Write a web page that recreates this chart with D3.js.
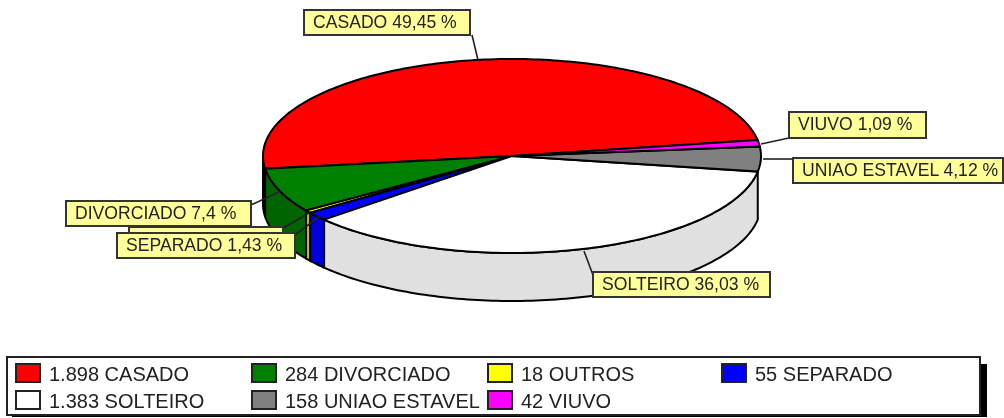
<!DOCTYPE html>
<html>
<head>
<meta charset="utf-8">
<script src="https://cdn.jsdelivr.net/npm/d3@7"></script>
<style>
html, body { margin: 0; padding: 0; background: #fff; }
svg { filter: blur(0.45px); }
text { font-family: "Liberation Sans", Arial, sans-serif; fill: #222; }
.callout { font-size: 17.6px; }
.legend-label { font-size: 20px; }
</style>
</head>
<body>
<div id="chart"></div>
<script>
// slices, counter clockwise from the right side of the pie
var categories = ["CASADO", "DIVORCIADO", "OUTROS", "SEPARADO", "SOLTEIRO", "UNIAO ESTAVEL", "VIUVO"];
var counts = [1898, 284, 18, 55, 1383, 158, 42];
var countLabels = ["1.898", "284", "18", "55", "1.383", "158", "42"];
var percentLabels = ["49,45 %", "7,4 %", "0,47 %", "1,43 %", "36,03 %", "4,12 %", "1,09 %"];
var colors = ["#ff0000", "#008000", "#ffff00", "#0000ff", "#ffffff", "#808080", "#ff00ff"];
// uniao estavel has no wall in the original, the solteiro wall closes the side
var wallColors = ["#d80000", "#006400", "#c8b820", "#0000d8", "#e0e0e0", null, "#d000d0"];

var width = 1004, height = 418;
var cx = 512, cy = 156, rx = 249, ry = 97, depth = 48;
var startAngle = 9.5 * Math.PI / 180;

var svg = d3.select("#chart").append("svg")
    .attr("width", width)
    .attr("height", height)
    .style("display", "block");

var slices = d3.pie().sort(null).startAngle(startAngle).endAngle(startAngle + 2 * Math.PI)(counts);

function px(a) { return cx + rx * Math.cos(a); }
function py(a) { return cy - ry * Math.sin(a); }

function arcPoints(a0, a1, dy) {
    var n = Math.max(2, Math.ceil(Math.abs(a1 - a0) / 0.02));
    return d3.range(n + 1).map(function (i) {
        var a = a0 + (a1 - a0) * i / n;
        return [px(a), py(a) + dy];
    });
}

var line = d3.line();

// side wall, only the front half of the ellipse shows
var walls = svg.append("g");
slices.forEach(function (d) {
    if (!wallColors[d.index]) return;
    for (var k = 0; k < 2; k++) {
        var a0 = Math.max(d.startAngle, Math.PI + k * 2 * Math.PI);
        var a1 = Math.min(d.endAngle, 2 * Math.PI + k * 2 * Math.PI);
        if (a1 <= a0) continue;
        var pts = arcPoints(a0, a1, 0).concat(arcPoints(a1, a0, depth));
        walls.append("path")
            .attr("d", line(pts) + "Z")
            .attr("fill", wallColors[d.index])
            .attr("stroke", "#000")
            .attr("stroke-width", 2);
    }
});

// top face
var topFace = svg.append("g");
slices.forEach(function (d) {
    var pts = [[cx, cy]].concat(arcPoints(d.startAngle, d.endAngle, 0));
    topFace.append("path")
        .attr("d", line(pts) + "Z")
        .attr("fill", colors[d.index])
        .attr("stroke", "#000")
        .attr("stroke-width", 2);
});

// callouts, drawn in the same order as the slices
var boxes = [
    {i: 0, x: 304, y: 10, w: 166, h: 25, line: [[472, 35], [478, 60]], text: 1},
    {i: 1, x: 66, y: 201, w: 185, h: 25, line: [[251, 205], [281, 191]], text: 1},
    {i: 2, x: 129, y: 227, w: 154, h: 25, line: [[283, 228], [309, 213]], text: 0},
    {i: 3, x: 117, y: 233, w: 178, h: 25, line: [[295, 235], [320, 216]], text: 1},
    {i: 4, x: 593, y: 272, w: 177, h: 25, line: [[593, 275], [584, 251]], text: 1},
    {i: 5, x: 793, y: 158, w: 210, h: 25, line: [[793, 159], [763, 159]], text: 1},
    {i: 6, x: 789, y: 112, w: 137, h: 26, line: [[789, 138], [761, 144]], text: 1}
];

var callouts = svg.append("g");
boxes.forEach(function (b) {
    callouts.append("path")
        .attr("d", line(b.line))
        .attr("fill", "none")
        .attr("stroke", "#222")
        .attr("stroke-width", 1.6);
});
boxes.forEach(function (b) {
    callouts.append("rect")
        .attr("x", b.x).attr("y", b.y)
        .attr("width", b.w).attr("height", b.h)
        .attr("fill", "#ffff99")
        .attr("stroke", "#333")
        .attr("stroke-width", 2);
    if (b.text) {
        callouts.append("text")
            .attr("class", "callout")
            .attr("x", b.x + 9)
            .attr("y", b.y + b.h / 2 + 5)
            .text(categories[b.i] + " " + percentLabels[b.i]);
    }
});

// legend
var colX = [16, 252, 488, 722];
var rowY = [364, 391];
var legend = svg.append("g");

legend.append("rect").attr("x", 12).attr("y", 364).attr("width", 975).attr("height", 53).attr("fill", "#000");
legend.append("rect").attr("x", 7).attr("y", 357).attr("width", 973).attr("height", 58)
    .attr("fill", "#fff").attr("stroke", "#222").attr("stroke-width", 2);

categories.forEach(function (c, n) {
    var x = colX[n % 4], y = rowY[Math.floor(n / 4)];
    legend.append("rect").attr("x", x).attr("y", y).attr("width", 24).attr("height", 18)
        .attr("fill", colors[n]).attr("stroke", "#222").attr("stroke-width", 2);
    legend.append("text")
        .attr("class", "legend-label")
        .attr("x", x + 33).attr("y", y + 16.5)
        .text(countLabels[n] + " " + c);
});
</script>
</body>
</html>
